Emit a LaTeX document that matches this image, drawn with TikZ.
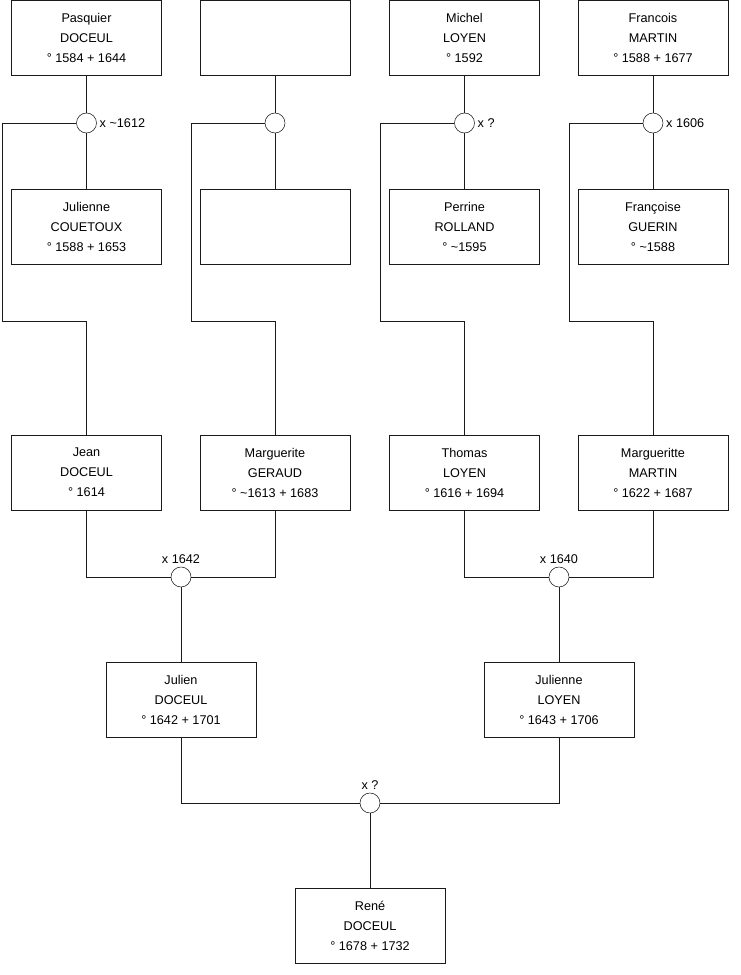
\documentclass[tikz,border=0pt]{standalone}
\usepackage{fontspec}
\setmainfont{Liberation Sans}
\usepackage{xcolor}
\definecolor{treeLine}{HTML}{1A1A1A}
\definecolor{treeText}{HTML}{000000}

\begin{document}
\begin{tikzpicture}[x=0.75pt, y=-0.75pt,
  person/.style={draw=treeLine, fill=white, text=treeText, minimum width=112.5pt, minimum height=56.25pt, inner sep=0pt, align=center, font=\fontsize{9.5}{15}\selectfont},
  wed/.style={circle, draw=treeLine, fill=white, minimum size=15pt, inner sep=0pt},
  date/.style={text=treeText, inner sep=2pt, font=\fontsize{9.5}{11}\selectfont},
  link/.style={draw=treeLine, line width=0.75pt}]
  \useasboundingbox (0,0) rectangle (740,975);
  % generation 1
  \node[person] (pasquier) at (86.5,38) {Pasquier\\DOCEUL\\° 1584 + 1644};
  \node[person] (inconnu1) at (275,38) {};
  \node[person] (michel) at (464.5,38) {Michel\\LOYEN\\° 1592};
  \node[person] (francois) at (653,38) {Francois\\MARTIN\\° 1588 + 1677};
  \node[person] (julienneC) at (86.5,227) {Julienne\\COUETOUX\\° 1588 + 1653};
  \node[person] (inconnu2) at (275,227) {};
  \node[person] (perrine) at (464.5,227) {Perrine\\ROLLAND\\° \textasciitilde1595};
  \node[person] (francoise) at (653,227) {Françoise\\GUERIN\\° \textasciitilde1588};
  % generation 2
  \node[person] (jean) at (86.5,472.5) {Jean\\DOCEUL\\° 1614};
  \node[person] (marguerite) at (275,472.5) {Marguerite\\GERAUD\\° \textasciitilde1613 + 1683};
  \node[person] (thomas) at (464.5,472.5) {Thomas\\LOYEN\\° 1616 + 1694};
  \node[person] (margueritte) at (653,472.5) {Margueritte\\MARTIN\\° 1622 + 1687};
  % generation 3
  \node[person] (julien) at (181,699.5) {Julien\\DOCEUL\\° 1642 + 1701};
  \node[person] (julienneL) at (559,699.5) {Julienne\\LOYEN\\° 1643 + 1706};
  % generation 4
  \node[person] (rene) at (370,926) {René\\DOCEUL\\° 1678 + 1732};

  % marriages
  \node[wed] (m1) at (86.5,123) {};
  \node[wed] (m2) at (275,123) {};
  \node[wed] (m3) at (464.5,123) {};
  \node[wed] (m4) at (653,123) {};
  \node[wed] (m5) at (181,577) {};
  \node[wed] (m6) at (559,577) {};
  \node[wed] (m7) at (370,803) {};
  \node[date, anchor=west] (d1) at (m1.east) {x \textasciitilde1612};
  \node[date, anchor=west] (d3) at (m3.east) {x ?};
  \node[date, anchor=west] (d4) at (m4.east) {x 1606};
  \node[date, anchor=south] (d5) at (m5.north) {x 1642};
  \node[date, anchor=south] (d6) at (m6.north) {x 1640};
  \node[date, anchor=south] (d7) at (m7.north) {x ?};

  % couples
  \draw[link] (pasquier) -- (m1);
  \draw[link] (m1) -- (julienneC);
  \draw[link] (inconnu1) -- (m2);
  \draw[link] (m2) -- (inconnu2);
  \draw[link] (michel) -- (m3);
  \draw[link] (m3) -- (perrine);
  \draw[link] (francois) -- (m4);
  \draw[link] (m4) -- (francoise);
  \draw[link] (jean.south) |- (m5.west);
  \draw[link] (marguerite.south) |- (m5.east);
  \draw[link] (thomas.south) |- (m6.west);
  \draw[link] (margueritte.south) |- (m6.east);
  \draw[link] (julien.south) |- (m7.west);
  \draw[link] (julienneL.south) |- (m7.east);

  % children
  \coordinate (k1) at (2.5,321);
  \coordinate (k2) at (191,321);
  \coordinate (k3) at (380,321);
  \coordinate (k4) at (569.5,321);
  \draw[link] (m1.west) -| (k1) -| (jean.north);
  \draw[link] (m2.west) -| (k2) -| (marguerite.north);
  \draw[link] (m3.west) -| (k3) -| (thomas.north);
  \draw[link] (m4.west) -| (k4) -| (margueritte.north);
  \draw[link] (m5) -- (julien);
  \draw[link] (m6) -- (julienneL);
  \draw[link] (m7) -- (rene);
\end{tikzpicture}
\end{document}
